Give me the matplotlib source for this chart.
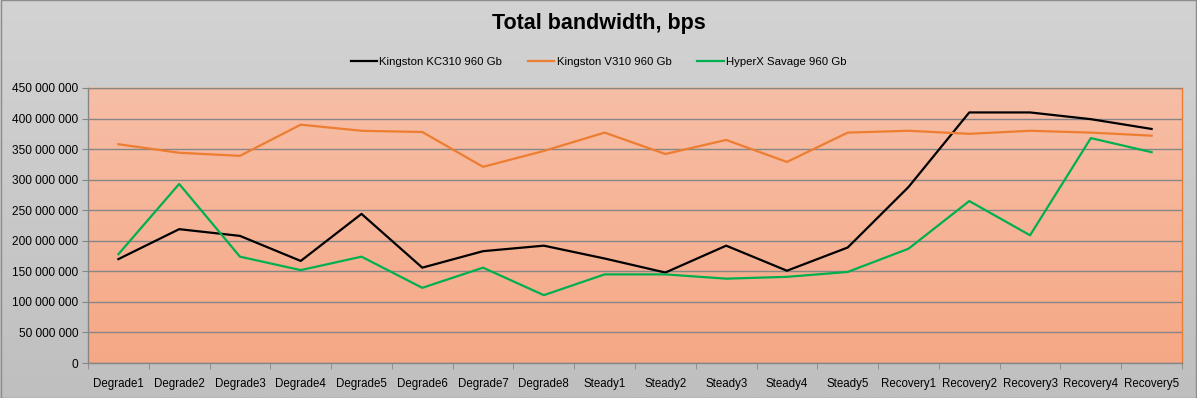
import numpy as np
import matplotlib
matplotlib.use("Agg")
import matplotlib.pyplot as plt
from matplotlib.ticker import FuncFormatter, MultipleLocator, FixedLocator
from matplotlib.colors import LinearSegmentedColormap

categories = ["Degrade1", "Degrade2", "Degrade3", "Degrade4", "Degrade5", "Degrade6",
              "Degrade7", "Degrade8", "Steady1", "Steady2", "Steady3", "Steady4",
              "Steady5", "Recovery1", "Recovery2", "Recovery3", "Recovery4", "Recovery5"]

kc310 = [170e6, 219e6, 208e6, 167e6, 244e6, 156e6, 183e6, 192e6, 171e6, 148e6,
         192e6, 151e6, 189e6, 288e6, 410e6, 410e6, 399e6, 383e6]
v310 = [358e6, 344e6, 339e6, 390e6, 380e6, 378e6, 321e6, 347e6, 377e6, 342e6,
        365e6, 329e6, 377e6, 380e6, 375e6, 380e6, 377e6, 372e6]
hyperx = [178e6, 293e6, 174e6, 152e6, 174e6, 123e6, 156e6, 111e6, 145e6, 145e6,
          138e6, 141e6, 149e6, 187e6, 265e6, 209e6, 368e6, 345e6]

series_names = ["Kingston KC310 960 Gb", "Kingston V310 960 Gb", "HyperX Savage 960 Gb"]
series_colors = ["#000000", "#ED7D31", "#00B050"]

plt.rcParams['font.family'] = ['Liberation Sans', 'DejaVu Sans']

W, H = 1197, 398
fig = plt.figure(figsize=(W / 100, H / 100), dpi=100)

# figure background gradient
bg = fig.add_axes([0, 0, 1, 1], zorder=-10)
grad = np.linspace(0, 1, 256).reshape(-1, 1)
cm_bg = LinearSegmentedColormap.from_list("bg", ["#d3d3d3", "#bfbfbf"])
bg.imshow(grad, aspect="auto", cmap=cm_bg, extent=[0, 1, 0, 1], origin="upper")
bg.set_axis_off()
bg.add_patch(plt.Rectangle((0.0005, 0.001), 0.999, 0.998, fill=False,
                           edgecolor="#8c8c8c", lw=1, transform=bg.transAxes))

left, right, top, bottom = 88, 1182, 88, 363
ax = fig.add_axes([left / W, (H - bottom) / H, (right - left) / W, (bottom - top) / H])
ax.set_facecolor("none")

x = np.arange(len(categories))
ax.set_xlim(-0.5, len(categories) - 0.5)
ax.set_ylim(0, 450e6)

cm_pa = LinearSegmentedColormap.from_list("pa", ["#f7bea6", "#f5a885"])
ax.imshow(grad, aspect="auto", cmap=cm_pa, extent=[-0.5, len(categories) - 0.5, 0, 450e6],
          origin="upper", zorder=0)

ax.yaxis.set_major_locator(MultipleLocator(50e6))
ax.yaxis.set_major_formatter(FuncFormatter(lambda v, p: f"{int(round(v)):,}".replace(",", " ")))
ax.grid(axis="y", color="#868686", lw=1, zorder=1)
ax.set_axisbelow(False)

for vals, name, col in zip([kc310, v310, hyperx], series_names, series_colors):
    ax.plot(x, vals, color=col, lw=1.6, label=name, zorder=3)

ax.set_xticks(x)
ax.set_xticklabels(categories)
ax.xaxis.set_minor_locator(FixedLocator(np.arange(-0.5, len(categories), 1.0)))
ax.tick_params(axis="x", which="major", length=0, pad=11, labelsize=8.3, colors="#000000")
ax.tick_params(axis="x", which="minor", length=4, color="#868686", direction="out")
ax.tick_params(axis="y", which="major", length=4, color="#868686", labelsize=8.6, pad=3)

for s in ["left", "bottom"]:
    ax.spines[s].set_color("#868686")
    ax.spines[s].set_linewidth(1)
for s in ["top", "right"]:
    ax.spines[s].set_color("#ED7D31")
    ax.spines[s].set_linewidth(1)

fig.text(0.5, 1 - 23 / H, "Total bandwidth, bps", ha="center", va="center",
         fontsize=15.5, fontweight="bold")

leg = fig.legend(loc="center", bbox_to_anchor=(0.5, 1 - 62 / H), ncol=3, frameon=False,
                 fontsize=8.2, handlelength=2.3, handletextpad=0.2, columnspacing=2.3)

fig.savefig("out.png", dpi=100)
